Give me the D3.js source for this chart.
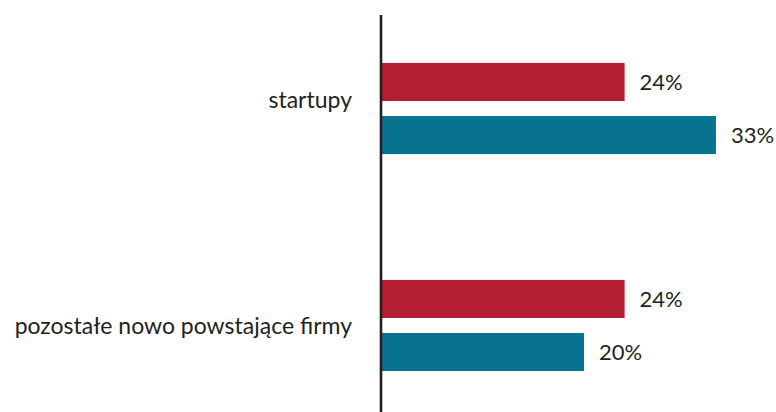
<!DOCTYPE html>
<html>
<head>
<meta charset="utf-8">
<script src="https://cdn.jsdelivr.net/npm/d3@7/dist/d3.min.js"></script>
<style>
  html, body { margin: 0; padding: 0; background: #ffffff; }
  svg { display: block; }
  text { font-family: Lato, "Open Sans", sans-serif; fill: #231f20; }
</style>
</head>
<body>
<svg id="chart" width="776" height="412"></svg>
<script>
// Share of firms (%) per category, two series per category
const categories = ["startupy", "pozostałe nowo powstające firmy"];
const seriesKeys = ["s1", "s2"];
const seriesColors = ["#b51f33", "#087291"];
const valuesS1 = [24, 24];
const valuesS2 = [33, 20];

const rows = categories.map((c, i) => ({
  category: c,
  values: [
    { key: "s1", value: valuesS1[i] },
    { key: "s2", value: valuesS2[i] }
  ]
}));

const W = 776, H = 412;
const svg = d3.select("#chart");

const x = d3.scaleLinear().domain([0, 36]).range([381, 746.4]);

const y0 = d3.scaleBand()
  .domain(categories)
  .range([0, 434])
  .paddingInner(0.58)
  .paddingOuter(0.29);

const y1 = d3.scaleBand()
  .domain(seriesKeys)
  .range([0, y0.bandwidth()])
  .paddingInner(0.283)
  .paddingOuter(0);

const color = d3.scaleOrdinal().domain(seriesKeys).range(seriesColors);

const groups = svg.append("g")
  .selectAll("g")
  .data(rows)
  .join("g")
  .attr("transform", d => `translate(0,${y0(d.category)})`);

groups.selectAll("rect")
  .data(d => d.values)
  .join("rect")
  .attr("x", x(0))
  .attr("y", d => y1(d.key))
  .attr("width", d => x(d.value) - x(0))
  .attr("height", y1.bandwidth())
  .attr("fill", d => color(d.key));

groups.selectAll("text.val")
  .data(d => d.values)
  .join("text")
  .attr("class", "val")
  .attr("x", d => x(d.value) + 15)
  .attr("y", d => y1(d.key) + y1.bandwidth() / 2)
  .attr("dy", "0.36em")
  .attr("font-size", 22)
  .text(d => d.value + "%");

// Category labels, right-aligned to the left of the axis
const labelShift = [-9, 0];
const yAxis = d3.axisLeft(y0).tickSize(0).tickPadding(29);
const ax = svg.append("g")
  .attr("transform", `translate(${x(0)},0)`)
  .call(yAxis);
ax.select(".domain").remove();
ax.selectAll("text")
  .attr("font-size", 23)
  .attr("dy", "0.36em")
  .attr("transform", (d, i) => `translate(0,${labelShift[i]})`)
  .style("font-family", "Lato, 'Open Sans', sans-serif")
  .attr("fill", "#231f20");

// Vertical baseline
svg.append("line")
  .attr("x1", x(0)).attr("x2", x(0))
  .attr("y1", 15).attr("y2", H)
  .attr("stroke", "#231f20")
  .attr("stroke-width", 2.6);
</script>
</body>
</html>
